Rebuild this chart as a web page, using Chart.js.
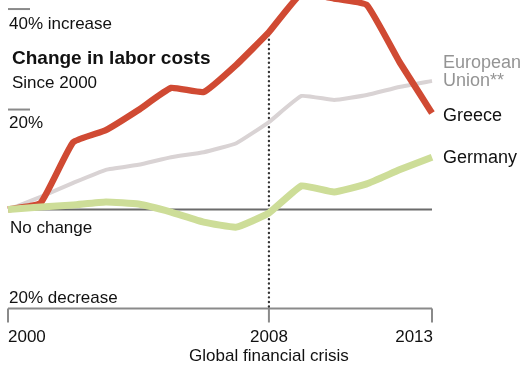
<!DOCTYPE html>
<html>
<head>
<meta charset="utf-8">
<script src="https://cdn.jsdelivr.net/npm/chart.js@4"></script>
<style>
  html, body { margin: 0; padding: 0; background: #fff; }
  #wrap { position: relative; width: 522px; height: 365px; }
</style>
</head>
<body>
<div id="wrap"><canvas id="chart"></canvas></div>
<script>
// Change in labor costs since 2000, percent
const years = ['2000', '2001', '2002', '2003', '2004', '2005', '2006',
               '2007', '2008', '2009', '2010', '2011', '2012', '2013'];
const greece  = [0, 1.3, 13.4, 15.8, 19.8, 24.2, 23.4, 28.8, 35.3, 43, 42, 40.7, 29.4, 19.2];
const euUnion = [0, 2.5, 5.3, 7.9, 8.9, 10.4, 11.4, 13.2, 17.4, 22.6, 21.8, 22.8, 24.4, 25.6];
const germany = [0, 0.5, 0.9, 1.5, 1.1, -0.5, -2.5, -3.5, -0.7, 4.7, 3.5, 5.1, 7.9, 10.4];
const tickYears = ['2000', '2008', '2013'];
const crisisYear = '2008';

const FONT = "'Liberation Sans', Arial, Helvetica, sans-serif";

const overlay = {
    id: 'overlay',
    beforeDatasetsDraw(chart) {
        const { ctx, scales: { x, y } } = chart;
        const x0 = x.getPixelForValue(0), x1 = x.getPixelForValue(years.length - 1);
        ctx.save();
        // zero line
        ctx.strokeStyle = '#6b6b6b';
        ctx.lineWidth = 2;
        ctx.beginPath();
        ctx.moveTo(x0, y.getPixelForValue(0));
        ctx.lineTo(x1, y.getPixelForValue(0));
        ctx.stroke();
        // small gridline stubs
        ctx.strokeStyle = '#8a8a8a';
        [40, 20].forEach(v => {
            const py = y.getPixelForValue(v) + 0.5;
            ctx.beginPath();
            ctx.moveTo(x0, py);
            ctx.lineTo(x0 + 22, py);
            ctx.stroke();
        });
        // x axis with ticks
        const ay = y.getPixelForValue(-20) - 1.5;
        ctx.beginPath();
        ctx.moveTo(x0, ay);
        ctx.lineTo(x1, ay);
        ctx.stroke();
        tickYears.forEach(t => {
            const px = x.getPixelForValue(years.indexOf(t));
            ctx.beginPath();
            ctx.moveTo(px, ay);
            ctx.lineTo(px, ay + 14);
            ctx.stroke();
        });
        // crisis dotted line
        const cx = x.getPixelForValue(years.indexOf(crisisYear));
        ctx.strokeStyle = '#333';
        ctx.lineWidth = 2.4;
        ctx.lineCap = 'round';
        ctx.setLineDash([0, 4.6]);
        ctx.beginPath();
        ctx.moveTo(cx, y.getPixelForValue(greece[years.indexOf(crisisYear)]) + 3);
        ctx.lineTo(cx, ay);
        ctx.stroke();
        ctx.restore();
    },
    afterDraw(chart) {
        const { ctx, scales: { x, y } } = chart;
        ctx.save();
        ctx.fillStyle = '#111';
        ctx.textBaseline = 'alphabetic';
        ctx.font = `17px ${FONT}`;
        ctx.fillText('40% increase', 9, 29);
        ctx.fillText('20%', 9, 128);
        ctx.fillText('No change', 10, 233);
        ctx.fillText('20% decrease', 9, 303);
        ctx.font = `bold 19px ${FONT}`;
        ctx.fillText('Change in labor costs', 12, 64);
        ctx.font = `17px ${FONT}`;
        ctx.fillText('Since 2000', 12, 88);

        // x tick labels
        tickYears.forEach((t, i) => {
            const px = x.getPixelForValue(years.indexOf(t));
            ctx.textAlign = i === 0 ? 'left' : (i === tickYears.length - 1 ? 'right' : 'center');
            ctx.fillText(t, i === tickYears.length - 1 ? px + 1 : px, 342);
        });
        ctx.textAlign = 'center';
        ctx.fillText('Global financial crisis', x.getPixelForValue(years.indexOf(crisisYear)), 361);

        // series labels
        ctx.textAlign = 'left';
        const lx = x.getPixelForValue(years.length - 1) + 11;
        ctx.font = `18px ${FONT}`;
        ctx.fillStyle = '#949494';
        ctx.fillText('European', lx, 68);
        ctx.fillText('Union**', lx, 86);
        ctx.fillStyle = '#111';
        ctx.fillText('Greece', lx, 121);
        ctx.fillText('Germany', lx, 163);
        ctx.restore();
    }
};

new Chart(document.getElementById('chart'), {
    type: 'line',
    data: {
        labels: years,
        datasets: [
            { label: 'Germany', data: germany, borderColor: '#cddd98', borderWidth: 7, order: 0 },
            { label: 'Greece', data: greece, borderColor: '#d04a33', borderWidth: 6.5, order: 1 },
            { label: 'European Union', data: euUnion, borderColor: '#d9d3d4', borderWidth: 4, order: 2 },
        ],
    },
    options: {
        responsive: true,
        maintainAspectRatio: false,
        animation: false,
        layout: { padding: { left: 8, right: 90, top: 0, bottom: 55 } },
        elements: {
            point: { radius: 0 },
            line: { tension: 0.12, borderJoinStyle: 'round', borderCapStyle: 'butt' },
        },
        scales: {
            x: { display: false, offset: false },
            y: { display: false, min: -20, max: 41.7 },
        },
        plugins: { legend: { display: false }, tooltip: { enabled: false } },
    },
    plugins: [overlay],
});
</script>
</body>
</html>
